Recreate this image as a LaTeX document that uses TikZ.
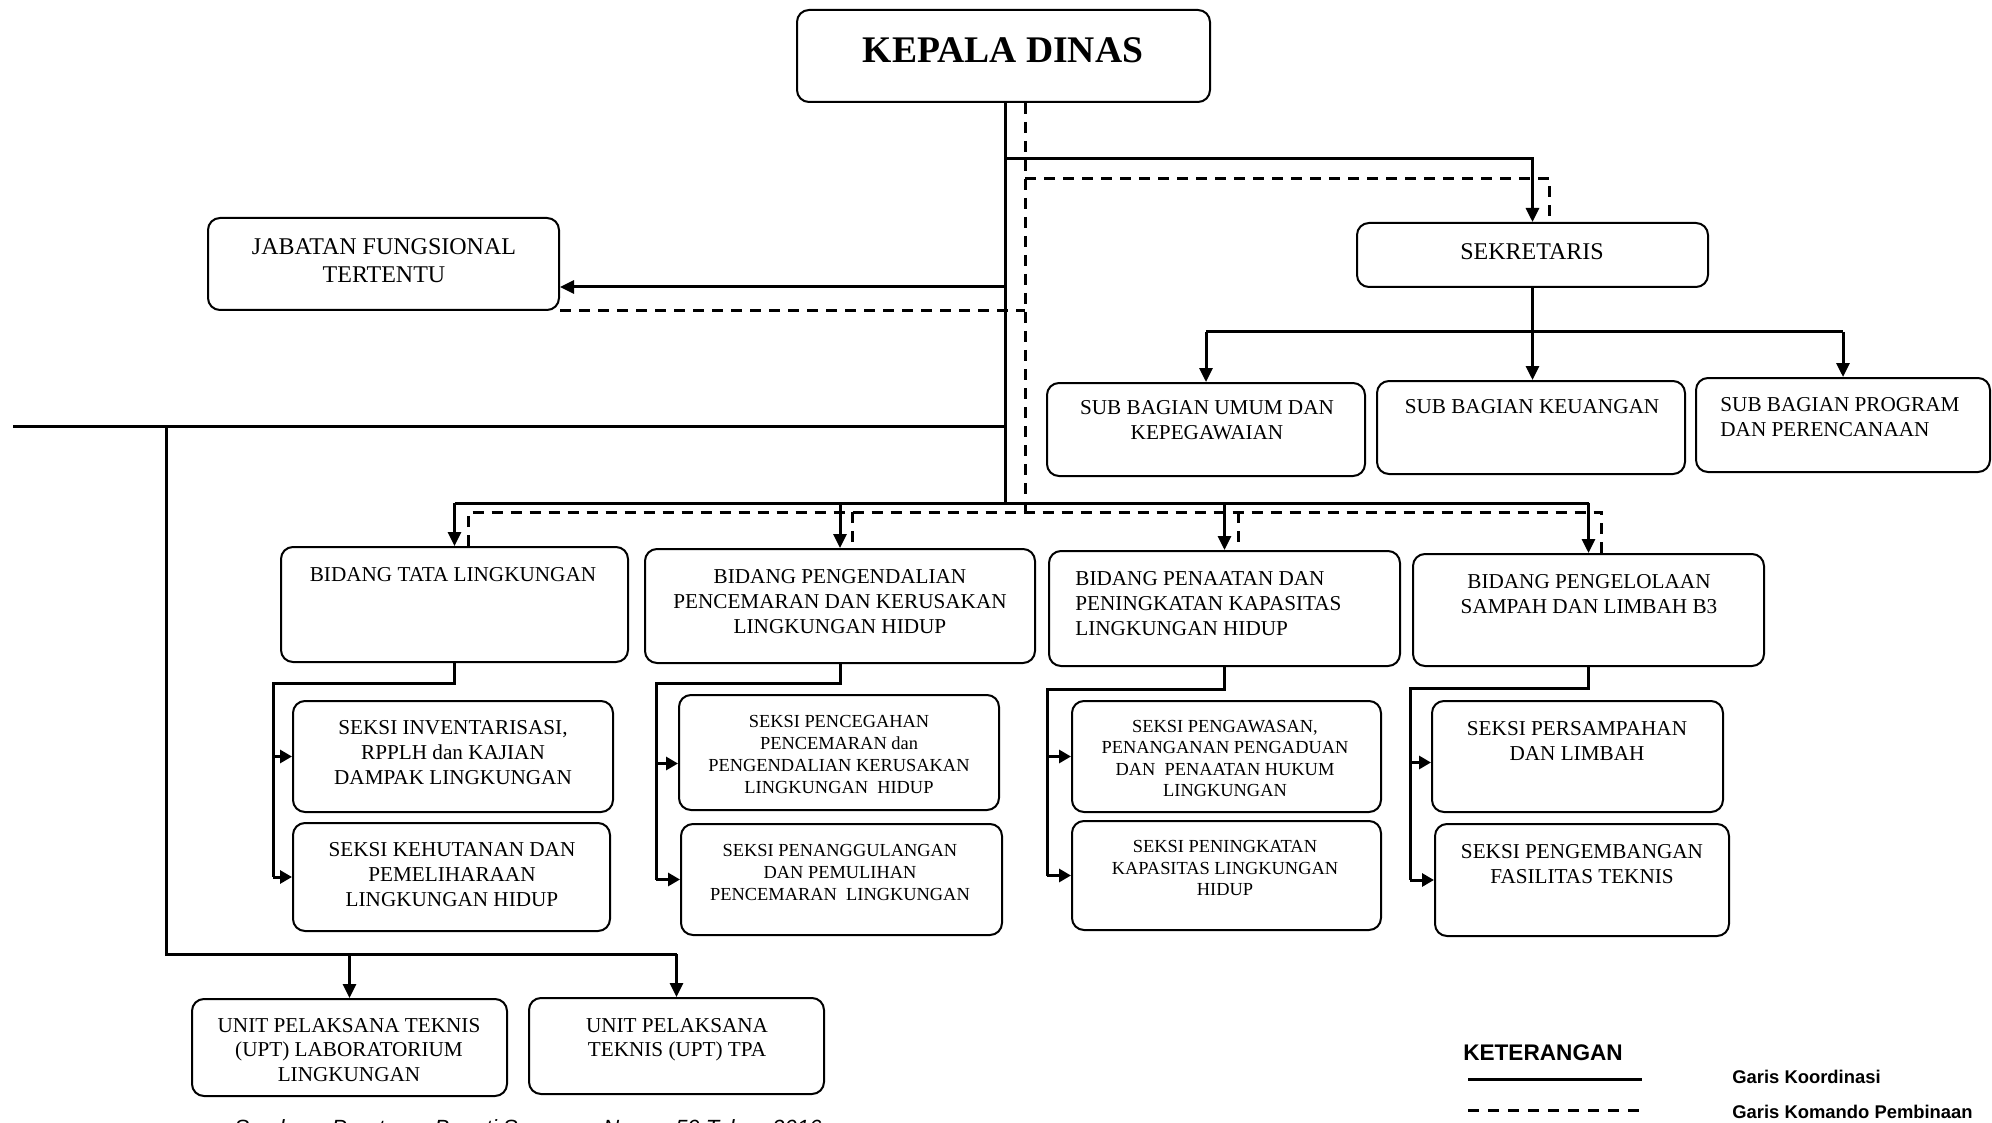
\documentclass[tikz,border=0pt]{standalone}
\usepackage{fontspec}
\setmainfont{Liberation Serif}
\newfontfamily\arialfont{Liberation Sans}
\usetikzlibrary{arrows.meta,fit}
\begin{document}
\begin{tikzpicture}[x=0.5pt,y=-0.5pt,
  box/.style={draw,line width=1pt,rounded corners=6pt,inner sep=0pt},
  co/.style={line width=1.5pt},
  cd/.style={line width=1.5pt,dash pattern=on 5.5pt off 4pt},
  arr/.style={-{Triangle[length=7pt,width=6.5pt]}},
  sarr/.style={-{Triangle[length=6pt,width=6.5pt]}},
  tA/.style={font=\fontsize{10.6}{12.5}\selectfont,align=center,inner sep=0pt},
  tL/.style={font=\fontsize{10.6}{12.5}\selectfont,align=left,inner sep=0pt,anchor=west},
  tB/.style={font=\fontsize{12}{14}\selectfont,align=center,inner sep=0pt},
  tS/.style={font=\fontsize{9.2}{11}\selectfont,align=center,inner sep=0pt},
  tU/.style={font=\fontsize{10.6}{12.2}\selectfont,align=center,inner sep=0pt},
  leg/.style={font=\arialfont\bfseries\fontsize{9.2}{11}\selectfont,inner sep=0pt,anchor=west},
]
\useasboundingbox (0,0) rectangle (1992,1123);

% ---------- boxes ----------
\node[box,fit={(797,10) (1210,102)}] (kd) {};
\node[box,fit={(208,218) (559,310)}] (jft) {};
\node[box,fit={(1357,223) (1708,287)}] (sek) {};
\node[box,fit={(1047,383) (1365,476)}] (sbu) {};
\node[box,fit={(1377,381) (1685,474)}] (sbk) {};
\node[box,fit={(1696,378) (1990,472)}] (sbp) {};
\node[box,fit={(281,547) (628,662)}] (bt) {};
\node[box,fit={(645,549) (1035,663)}] (bp) {};
\node[box,fit={(1049,551) (1400,666)}] (bn) {};
\node[box,fit={(1413,554) (1764,666)}] (bs) {};
\node[box,fit={(293,701) (613,812)}] (sk1) {};
\node[box,fit={(293,823) (610,931)}] (sk2) {};
\node[box,fit={(679,695) (999,810)}] (sk3) {};
\node[box,fit={(681,824) (1002,935)}] (sk4) {};
\node[box,fit={(1072,701) (1381,812)}] (sk5) {};
\node[box,fit={(1072,821) (1381,930)}] (sk6) {};
\node[box,fit={(1432,701) (1723,812)}] (sk7) {};
\node[box,fit={(1435,824) (1729,936)}] (sk8) {};
\node[box,fit={(192,999) (507,1096)}] (upt1) {};
\node[box,fit={(529,998) (824,1094)}] (upt2) {};

% ---------- texts ----------
\node[inner sep=0pt,font=\bfseries\fontsize{18.8}{21}\selectfont] (kdt) at (1003,50) {KEPALA DINAS};
\node[tB] (jftt) at (384,261) {JABATAN FUNGSIONAL\\TERTENTU};
\node[tB] (sekt) at (1532,252) {SEKRETARIS};
\node[tA] (sbut) at (1207,420.5) {SUB BAGIAN UMUM DAN\\KEPEGAWAIAN};
\node[tA] (sbkt) at (1532,407) {SUB BAGIAN KEUANGAN};
\node[tL] (sbpt) at (1720,417.5) {SUB BAGIAN PROGRAM\\DAN PERENCANAAN};
\node[tA] (btt) at (453,575) {BIDANG TATA LINGKUNGAN};
\node[tA] (bpt) at (840,602) {BIDANG PENGENDALIAN\\PENCEMARAN DAN KERUSAKAN\\LINGKUNGAN HIDUP};
\node[tL] (bnt) at (1075,603.5) {BIDANG PENAATAN DAN\\PENINGKATAN KAPASITAS\\LINGKUNGAN HIDUP};
\node[tA] (bst) at (1589,594.5) {BIDANG PENGELOLAAN\\SAMPAH DAN LIMBAH B3};
\node[tA] (sk1t) at (453,753) {SEKSI INVENTARISASI,\\RPPLH dan KAJIAN\\DAMPAK LINGKUNGAN};
\node[tA] (sk2t) at (452,875) {SEKSI KEHUTANAN DAN\\PEMELIHARAAN\\LINGKUNGAN HIDUP};
\node[tS] (sk3t) at (839,754) {SEKSI PENCEGAHAN\\PENCEMARAN dan\\PENGENDALIAN KERUSAKAN\\LINGKUNGAN~ HIDUP};
\node[tS] (sk4t) at (840,872) {SEKSI PENANGGULANGAN\\DAN PEMULIHAN\\PENCEMARAN~ LINGKUNGAN};
\node[tS,font=\fontsize{9.2}{10.6}\selectfont] (sk5t) at (1225,758.5) {SEKSI PENGAWASAN,\\PENANGANAN PENGADUAN\\DAN~ PENAATAN HUKUM\\LINGKUNGAN};
\node[tS,font=\fontsize{9.2}{10.8}\selectfont] (sk6t) at (1225,868) {SEKSI PENINGKATAN\\KAPASITAS LINGKUNGAN\\HIDUP};
\node[tA] (sk7t) at (1577,741) {SEKSI PERSAMPAHAN\\DAN LIMBAH};
\node[tA] (sk8t) at (1582,864.5) {SEKSI PENGEMBANGAN\\FASILITAS TEKNIS};
\node[tU] (upt1t) at (349,1050) {UNIT PELAKSANA TEKNIS\\(UPT) LABORATORIUM\\LINGKUNGAN};
\node[tU] (upt2t) at (677,1039.5) {UNIT PELAKSANA\\TEKNIS (UPT) TPA};

% ---------- junction coordinates ----------
\coordinate (jS) at (1005,503);
\coordinate (jD) at (1025,512);
\coordinate (ks) at (1005,159);
\coordinate (kd2) at (1025,179);
\coordinate (kj) at (1005,287);
\coordinate (lw) at (13,426);
\coordinate (lv) at (166,426);
\coordinate (lb) at (166,954);
\coordinate (sbl) at (0,332);
\coordinate (sb) at (sek.south |- sbl);
\coordinate (t1) at (273,683);
\coordinate (t2) at (656,683);
\coordinate (t3) at (1047,689);
\coordinate (t4) at (1410,688);
\coordinate (sekd) at ([xshift=8.5pt]sek.north);
\coordinate (dt) at ([xshift=7pt]bt.north);
\coordinate (dp) at ([xshift=6pt]bp.north);
\coordinate (dn) at ([xshift=7pt]bn.north);
\coordinate (ds) at ([xshift=6.5pt]bs.north);

% ---------- solid connectors (Garis Koordinasi) ----------
\draw[co] (kd.south -| jS) -- (jS);
\draw[co,arr] (ks) -| (sek.north);
\draw[co,arr] (kj) -- (kj -| jft.east);
\draw[co] (lw) -- (lw -| jS);
\draw[co] (lv) -- (lb) -- (lb -| upt2.north);
\draw[co,arr] (lb -| upt1.north) -- (upt1.north);
\draw[co,arr] (lb -| upt2.north) -- (upt2.north);
% sekretaris
\draw[co] (sek.south) -- (sb);
\draw[co] (sbu.north |- sb) -- (sbp.north |- sb);
\draw[co,arr] (sbu.north |- sb) -- (sbu.north);
\draw[co,arr] (sb) -- (sb |- sbk.north);
\draw[co,arr] (sbp.north |- sb) -- (sbp.north);
% bidang
\draw[co] (bt.north |- jS) -- (bs.north |- jS);
\draw[co,arr] (bt.north |- jS) -- (bt.north);
\draw[co,arr] (bp.north |- jS) -- (bp.north);
\draw[co,arr] (bn.north |- jS) -- (bn.north);
\draw[co,arr] (bs.north |- jS) -- (bs.north);
% seksi
\draw[co] (bt.south) |- (t1) -- (t1 |- sk2.west);
\draw[co,sarr] (t1 |- sk1.west) -- (sk1.west);
\draw[co,sarr] (t1 |- sk2.west) -- (sk2.west);
\draw[co] (bp.south) |- (t2) -- (t2 |- sk4.west);
\draw[co,sarr] ([yshift=-5.5pt]t2 |- sk3.west) -- ([yshift=-5.5pt]sk3.west);
\draw[co,sarr] (t2 |- sk4.west) -- (sk4.west);
\draw[co] (bn.south) |- (t3) -- (t3 |- sk6.west);
\draw[co,sarr] (t3 |- sk5.west) -- (sk5.west);
\draw[co,sarr] (t3 |- sk6.west) -- (sk6.west);
\draw[co] (bs.south) |- (t4) -- (t4 |- sk8.west);
\draw[co,sarr] ([yshift=-3pt]t4 |- sk7.west) -- ([yshift=-3pt]sk7.west);
\draw[co,sarr] (t4 |- sk8.west) -- (sk8.west);

% ---------- dashed connectors (Garis Komando Pembinaan) ----------
\draw[cd] (kd.south -| jD) -- (jD);
\draw[cd] (kd2) -| (sekd);
\draw[cd] (jft.south east) -- (jft.south east -| jD);
\draw[cd] (dt) -- (dt |- jD) -- (ds |- jD) -- (ds);
\draw[cd] (dp |- jD) -- (dp);
\draw[cd] (dn |- jD) -- (dn);

% ---------- legend ----------
\node[font=\arialfont\bfseries\fontsize{11.3}{13}\selectfont,inner sep=0pt] (ket) at (1543,1053) {KETERANGAN};
\coordinate (l1a) at (1468,1079);
\coordinate (l1b) at (1642,1079);
\coordinate (l2a) at (1468,1110);
\coordinate (l2b) at (1642,1110);
\draw[co] (l1a) -- (l1b);
\draw[line width=1.5pt,dash pattern=on 5.5pt off 4.5pt] (l2a) -- (l2b);
\node[leg] (gk) at (1732,1077) {Garis Koordinasi};
\node[leg] (gkp) at (1732,1112) {Garis Komando Pembinaan};

% ---------- source (cut by the page edge, as in the original) ----------
\node[anchor=north west,inner sep=0pt,font=\arialfont\itshape\fontsize{11}{13}\selectfont] (src) at (234,1119) {Sumber : Peraturan Bupati Sumenep Nomor 59 Tahun 2016};
\end{tikzpicture}
\end{document}
